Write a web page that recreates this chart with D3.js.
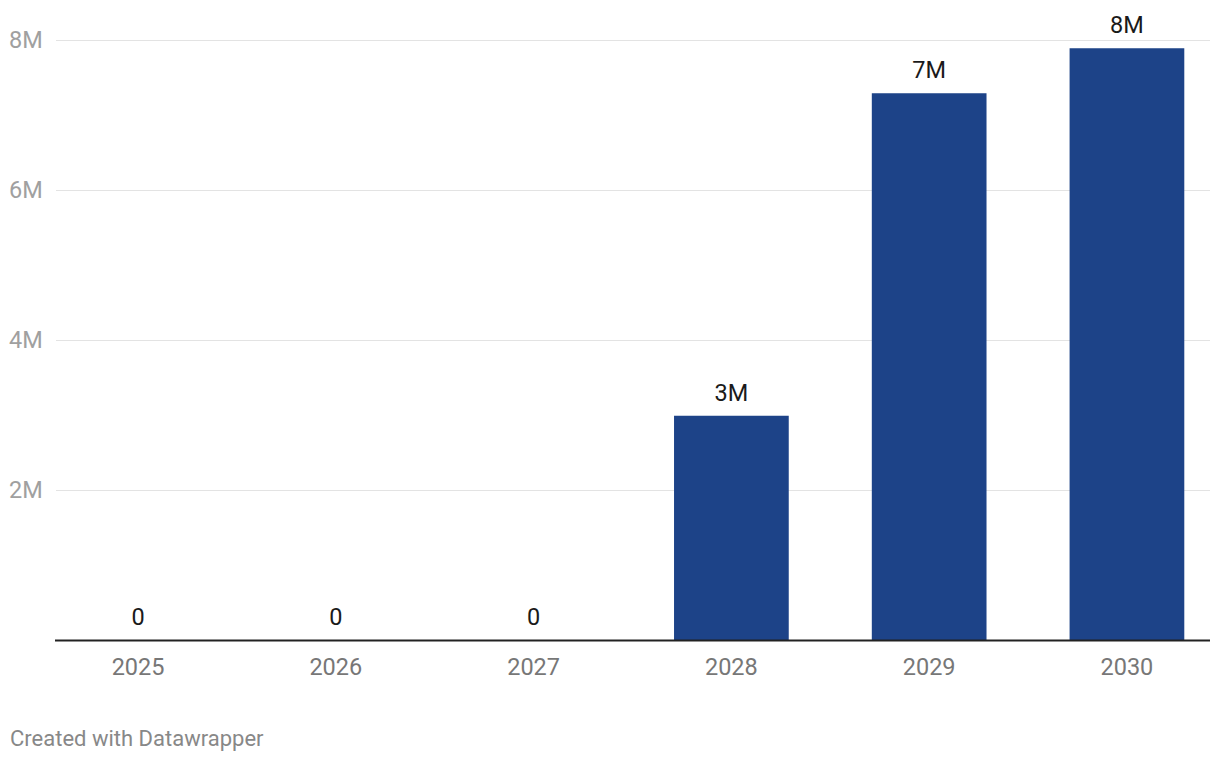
<!DOCTYPE html>
<html lang="en">
<head>
    <meta charset="UTF-8">
    <title>Bar chart</title>
    <script src="https://d3js.org/d3.v7.min.js"></script>
    <style>
        body {
            margin: 0;
            background: #fff;
            font-family: Roboto, sans-serif;
        }
        .grid line {
            stroke: #e3e3e3;
            stroke-width: 1px;
        }
    </style>
</head>
<body>
    <svg width="1220" height="764"></svg>
    <script>
        // data
        const years = ["2025", "2026", "2027", "2028", "2029", "2030"];
        const values = [0, 0, 0, 2990000, 7290000, 7890000];
        const labels = ["0", "0", "0", "3M", "7M", "8M"];
        const yTicks = [2000000, 4000000, 6000000, 8000000];
        const yTickLabels = ["2M", "4M", "6M", "8M"];

        const svg = d3.select("svg");

        const x = d3.scaleBand()
            .domain(years)
            .range([55, 1210])
            .paddingInner(0.42)
            .paddingOuter(0.13);

        const y = d3.scaleLinear()
            .domain([0, 8000000])
            .range([640, 40]);

        // gridlines
        const grid = svg.append("g").attr("class", "grid");
        grid.selectAll("line")
            .data(yTicks)
            .enter().append("line")
            .attr("x1", 56)
            .attr("x2", 1210)
            .attr("y1", d => Math.round(y(d)) + 0.5)
            .attr("y2", d => Math.round(y(d)) + 0.5);

        svg.append("g")
            .selectAll("text")
            .data(yTicks)
            .enter().append("text")
            .attr("x", 9)
            .attr("y", d => y(d))
            .attr("dy", "0.35em")
            .attr("font-size", 23.5)
            .attr("fill", "#a0a0a0")
            .text((d, i) => yTickLabels[i]);

        // bars
        svg.append("g")
            .selectAll("rect")
            .data(values)
            .enter().append("rect")
            .attr("x", (d, i) => x(years[i]))
            .attr("width", x.bandwidth())
            .attr("y", d => y(d))
            .attr("height", d => y(0) - y(d))
            .attr("fill", "#1d4388");

        // value labels
        svg.append("g")
            .selectAll("text")
            .data(values)
            .enter().append("text")
            .attr("x", (d, i) => x(years[i]) + x.bandwidth() / 2)
            .attr("y", d => y(d) - 15)
            .attr("text-anchor", "middle")
            .attr("font-size", 23.5)
            .attr("fill", "#1a1a1a")
            .text((d, i) => labels[i]);

        // baseline
        svg.append("line")
            .attr("x1", 55)
            .attr("x2", 1210)
            .attr("y1", y(0) + 0.5)
            .attr("y2", y(0) + 0.5)
            .attr("stroke", "#222")
            .attr("stroke-width", 2);

        // x axis labels
        svg.append("g")
            .selectAll("text")
            .data(years)
            .enter().append("text")
            .attr("x", d => x(d) + x.bandwidth() / 2)
            .attr("y", 675)
            .attr("text-anchor", "middle")
            .attr("font-size", 23.5)
            .attr("fill", "#777")
            .text(d => d);

        svg.append("text")
            .attr("x", 10)
            .attr("y", 746)
            .attr("font-size", 22)
            .attr("fill", "#888")
            .text("Created with Datawrapper");
    </script>
</body>
</html>
